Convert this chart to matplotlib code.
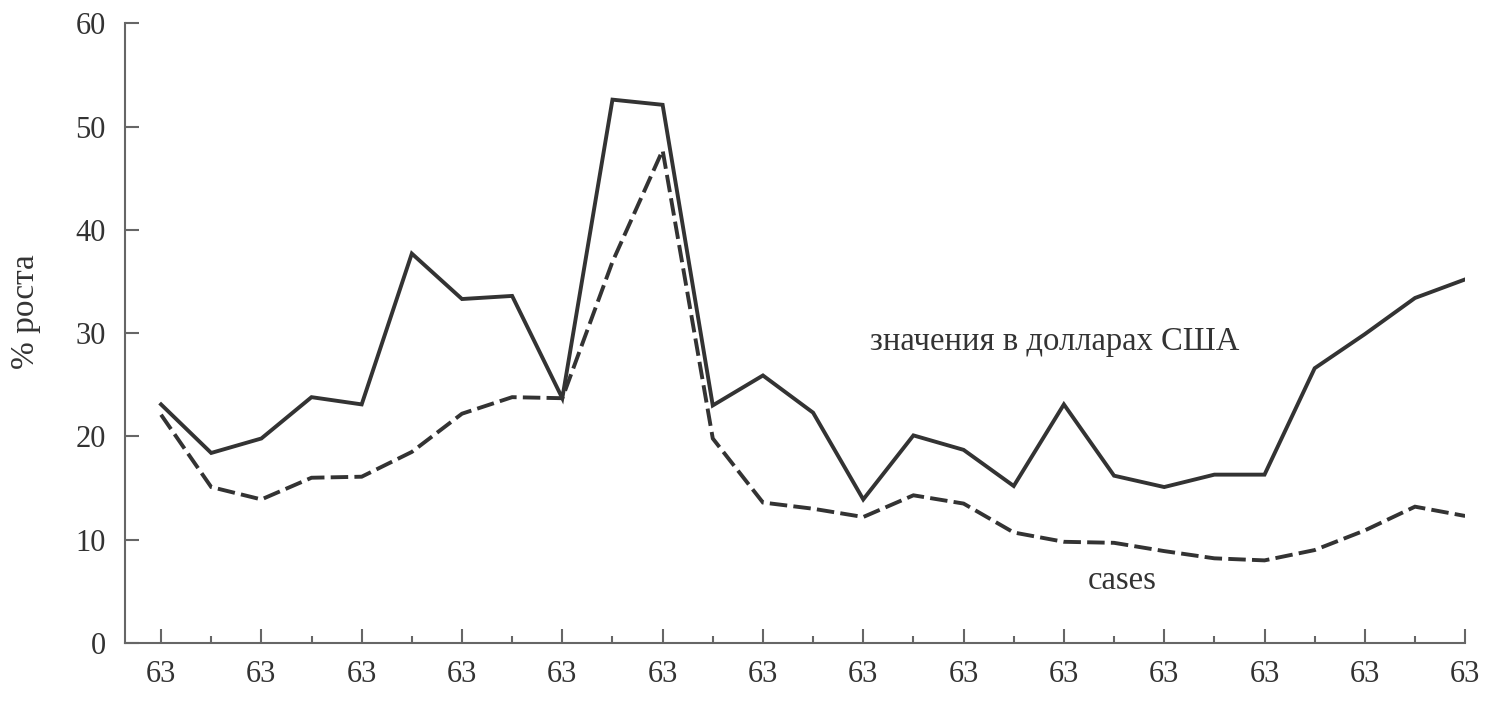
import matplotlib
matplotlib.use("Agg")
import matplotlib.pyplot as plt
from matplotlib.ticker import FixedLocator

periods = list(range(27))
tick_label = "63"
usd_values = [23.1, 18.4, 19.8, 23.8, 23.1, 37.7, 33.3, 33.6, 23.7, 52.6, 52.1,
              23.0, 25.9, 22.3, 13.9, 20.1, 18.7, 15.2, 23.1, 16.2, 15.1, 16.3,
              16.3, 26.6, 29.9, 33.4, 35.2]
cases_values = [22.1, 15.1, 13.9, 16.0, 16.1, 18.5, 22.2, 23.8, 23.7, 36.9, 47.7,
                19.8, 13.6, 13.0, 12.2, 14.3, 13.5, 10.7, 9.8, 9.7, 8.9, 8.2,
                8.0, 9.0, 10.9, 13.2, 12.3]
y_ticks = [0, 10, 20, 30, 40, 50, 60]
y_label = "% роста"
usd_label = "значения в долларах США"
cases_label = "cases"

plt.rcParams['font.family'] = ['Liberation Serif', 'DejaVu Serif']
line_color = "#333333"
axis_color = "#666666"

fig = plt.figure(figsize=(14.92, 7.03), dpi=100)
ax = fig.add_axes([0.0838, 0.0853, 0.982 - 0.0838, 0.967 - 0.0853])

ax.plot(periods, usd_values, color=line_color, lw=2.8, solid_joinstyle='miter')
ax.plot(periods, cases_values, color=line_color, lw=2.8, linestyle=(0, (4.5, 1.6)),
        dash_joinstyle='miter')

ax.set_xlim(-0.718, 26)
ax.set_ylim(0, 60)

ax.xaxis.set_major_locator(FixedLocator(periods[::2]))
ax.xaxis.set_minor_locator(FixedLocator(periods[1::2]))
ax.set_xticklabels([tick_label] * len(periods[::2]))
ax.set_yticks(y_ticks)
ax.set_yticklabels([str(v) for v in y_ticks])

for s in ['top', 'right']:
    ax.spines[s].set_visible(False)
for s in ['left', 'bottom']:
    ax.spines[s].set_color(axis_color)
    ax.spines[s].set_linewidth(1.5)

ax.tick_params(axis='x', which='major', direction='in', length=10, width=1.5,
               color=axis_color, labelsize=22, labelcolor="#333333", pad=12)
ax.tick_params(axis='x', which='minor', direction='in', length=5, width=1.5,
               color=axis_color)
ax.tick_params(axis='y', which='major', direction='in', length=10, width=1.5,
               color=axis_color, labelsize=22, labelcolor="#333333", pad=14)

ax.set_ylabel(y_label, fontsize=24, color="#333333")
ax.yaxis.set_label_coords(-0.063, 0.535)

ax.text(14.13, 29.2, usd_label, fontsize=23.5, color="#333333", va='center', ha='left')
ax.text(18.48, 6.0, cases_label, fontsize=23.5, color="#333333", va='center', ha='left')

fig.savefig("out.png", dpi=100)
